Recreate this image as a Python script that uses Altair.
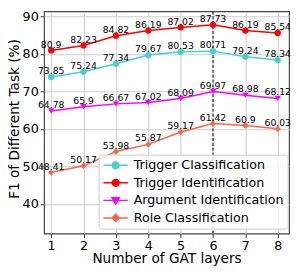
import altair as alt
import pandas as pd

layers = [1, 2, 3, 4, 5, 6, 7, 8]
series_names = ["Trigger Classification", "Trigger Identification",
                "Argument Identification", "Role Classification"]
tc = [73.85, 75.24, 77.34, 79.67, 80.53, 80.71, 79.24, 78.34]
ti = [80.9, 82.23, 84.82, 86.19, 87.02, 87.73, 86.19, 85.54]
ai = [64.78, 65.9, 66.67, 67.02, 68.09, 69.97, 68.98, 68.12]
rc = [48.41, 50.17, 53.98, 55.87, 59.17, 61.42, 60.9, 60.03]
colors = ["#48D1CC", "#FF0000", "#FF00FF", "#FF6347"]
shapes = ["circle", "circle", "triangle-down", "diamond"]
best_layer = [6]
x_ticks = [1, 2, 3, 4, 5, 6, 7, 8]
y_ticks = [40, 50, 60, 70, 80, 90]

rows = []
for name, vals, shp in zip(series_names, [tc, ti, ai, rc], shapes):
    for l, v in zip(layers, vals):
        rows.append({"layer": l, "f1": v, "series": name, "shape": shp,
                     "label": str(v)})
df = pd.DataFrame(rows)

FONT = "DejaVu Sans"

x_axis = alt.Axis(values=x_ticks, title="Number of GAT layers", format="d",
                  labelOverlap=False, titleY=30, titleBaseline="alphabetic")
x_scale = alt.Scale(domain=[0.78, 8.35], nice=False, zero=False)
x = alt.X("layer:Q", scale=x_scale, axis=x_axis)
y = alt.Y("f1:Q",
          scale=alt.Scale(domain=[32.14, 91.3], nice=False, zero=False),
          axis=alt.Axis(values=y_ticks, title="F1 of Different Task (%)",
                        titleX=-26, titleY=110, titleAngle=270,
                        titleBaseline="alphabetic", titleAlign="center"))

shape_expr = ("datum.value === 'Argument Identification' ? "
              "'M-1,0H1M-0.3,-0.22L0.3,-0.22L0,0.3Z' : "
              "datum.value === 'Role Classification' ? "
              "'M-1,0H1M0,-0.3L0.3,0L0,0.3L-0.3,0Z' : "
              "'M-1,0H1M-0.28,0A0.28,0.28,0,1,1,0.28,0A0.28,0.28,0,1,1,-0.28,0Z'")

legend = alt.Legend(
    title=None, orient="none", legendX=56, legendY=147,
    fillColor="rgba(255,255,255,0.8)", strokeColor="#cccccc", cornerRadius=3,
    padding=4, labelFont=FONT, labelFontSize=13, labelColor="black",
    symbolSize=625, labelOffset=5, rowPadding=4, symbolStrokeWidth=1.5,
    clipHeight=14,
    symbolType=alt.ExprRef(expr=shape_expr),
    symbolFillColor=alt.ExprRef(expr="scale('color', datum.value)"),
)

cscale = alt.Scale(domain=series_names, range=colors)
color = alt.Color("series:N", scale=cscale, legend=legend)
color_nolegend = alt.Color("series:N", scale=cscale, legend=None)

base = alt.Chart(df)

rule = alt.Chart(pd.DataFrame({"layer": best_layer})).mark_rule(
    strokeDash=[3, 2], color="black", strokeWidth=1).encode(x=x)

lines = base.mark_line(strokeWidth=1.5).encode(x=x, y=y, color=color)

point_layers = []
for shp in ["circle", "triangle-down", "diamond"]:
    point_layers.append(
        base.transform_filter(alt.datum.shape == shp)
        .mark_point(filled=True, size=42, opacity=1, shape=shp)
        .encode(x=x, y=y, color=color_nolegend)
    )

texts = base.mark_text(fontSize=9.5, dy=-3, baseline="alphabetic", color="black",
                       font=FONT).encode(x=x, y=y, text="label:N")

chart = alt.layer(lines, rule, *point_layers, texts).properties(
    width=251.5, height=228,
    autosize=alt.AutoSizeParams(type="none"),
    padding={"left": 37, "top": 0, "right": 3, "bottom": 35},
).configure_view(stroke="#444444", strokeWidth=1.2).configure_axis(
    grid=True, gridColor="#cccccc", gridWidth=1, domain=False,
    tickColor="#333333", tickSize=4, tickWidth=1,
    labelFont=FONT, labelFontSize=13, labelColor="black",
    titleFont=FONT, titleFontSize=14, titleFontWeight="normal", titleColor="black",
).configure_axisX(labelPadding=2).configure_axisY(labelPadding=2)

chart.save("out.html", embed_options={"renderer": "svg", "actions": False})
